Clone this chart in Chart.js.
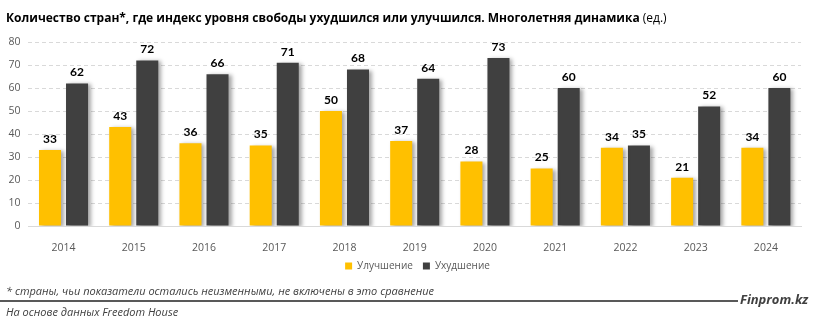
<!DOCTYPE html>
<html lang="ru">
<head>
<meta charset="utf-8">
<title>Индекс свободы: динамика</title>
<script src="https://cdn.jsdelivr.net/npm/chart.js@4/dist/chart.umd.min.js"></script>
<style>
  html, body { margin: 0; padding: 0; background: #fff; }
  #page { position: relative; width: 815px; height: 325px; overflow: hidden; font-family: "Open Sans", sans-serif; }
  #title { position: absolute; left: 6px; top: 9px; font-size: 12px; color: #000; white-space: nowrap; }
  #title b { font-weight: 700; }
  #wrap { position: absolute; left: 0; top: 0; width: 815px; height: 285px; }
  .note { position: absolute; left: 6px; font-style: italic; font-size: 11px; color: #404040; white-space: nowrap; }
  #rule { position: absolute; left: 0; top: 300px; width: 738px; height: 2px; background: #595959; }
  #brand { position: absolute; left: 740px; top: 290px; font-style: italic; font-weight: 700; font-size: 13px; color: #404040; white-space: nowrap; }
</style>
</head>
<body>
<div id="page">
  <div id="wrap"><canvas id="chart"></canvas></div>
  <div id="title"><b>Количество стран*, где индекс уровня свободы ухудшился или улучшился. Многолетняя динамика</b> (ед.)</div>
  <div class="note" style="top:283px">* страны, чьи показатели остались неизменными, не включены в это сравнение</div>
  <div id="rule"></div>
  <div id="brand">Finprom.kz</div>
  <div class="note" style="top:304px">На основе данных Freedom House</div>
</div>
<script>
// Годы и число стран по направлению изменения индекса свободы
const years = ['2014', '2015', '2016', '2017', '2018', '2019', '2020', '2021', '2022', '2023', '2024'];
const improved = [33, 43, 36, 35, 50, 37, 28, 25, 34, 21, 34];
const worsened = [62, 72, 66, 71, 68, 64, 73, 60, 35, 52, 60];
const seriesNames = ['Улучшение', 'Ухудшение'];
const yTicks = [0, 10, 20, 30, 40, 50, 60, 70, 80];

const colImproved = '#FFC000';
const colWorsened = '#404040';
const tickColor = '#595959';

// Тень у столбцов и подписи значений над ними
const barDecor = {
  id: 'barDecor',
  afterLayout(chart) {
    // легенда чуть правее центра холста
    chart.legend.left += 17;
    chart.legend.right += 17;
  },
  beforeDatasetsDraw(chart) {
    const ctx = chart.ctx;
    ctx.save();
    ctx.shadowColor = 'rgba(0,0,0,0.35)';
    ctx.shadowBlur = 4;
    ctx.shadowOffsetX = 3;
    ctx.shadowOffsetY = 1;
  },
  afterDatasetsDraw(chart) {
    const ctx = chart.ctx;
    ctx.restore();
    ctx.save();
    ctx.font = 'bold 12px Lato, "Open Sans", sans-serif';
    ctx.fillStyle = '#000';
    ctx.textAlign = 'center';
    ctx.textBaseline = 'bottom';
    chart.data.datasets.forEach((ds, i) => {
      chart.getDatasetMeta(i).data.forEach((bar, j) => {
        ctx.fillText(String(ds.data[j]), bar.x, bar.y - 5);
      });
    });
    ctx.restore();
  }
};

new Chart(document.getElementById('chart'), {
  type: 'bar',
  data: {
    labels: years,
    datasets: [
      { label: seriesNames[0], data: improved, backgroundColor: colImproved },
      { label: seriesNames[1], data: worsened, backgroundColor: colWorsened }
    ]
  },
  options: {
    responsive: true,
    maintainAspectRatio: false,
    animation: false,
    devicePixelRatio: 1,
    layout: { padding: { top: 42, left: 0, right: 14, bottom: 4 } },
    datasets: { bar: { categoryPercentage: 0.77, barPercentage: 0.815 } },
    scales: {
      x: {
        grid: { display: false },
        border: { display: true, color: '#d9d9d9', width: 1 },
        ticks: { color: tickColor, font: { family: 'Open Sans', size: 10.5 }, padding: 8 },
        afterFit(scale) { scale.height = 25; }
      },
      y: {
        min: 0, max: 80,
        afterBuildTicks(scale) { scale.ticks = yTicks.map(v => ({ value: v })); },
        grid: { color: '#d9d9d9', drawTicks: false, lineWidth: 1 },
        border: { display: false, dash: [4, 3] },
        ticks: { color: tickColor, font: { family: 'Open Sans', size: 10.5 }, padding: 8 },
        afterFit(scale) { scale.width = 28.4; }
      }
    },
    plugins: {
      legend: {
        position: 'bottom',
        labels: {
          boxWidth: 7, boxHeight: 7, padding: 10,
          color: tickColor,
          font: { family: 'Open Sans', size: 10 }
        }
      },
      tooltip: { enabled: false }
    }
  },
  plugins: [barDecor]
});
</script>
</body>
</html>
